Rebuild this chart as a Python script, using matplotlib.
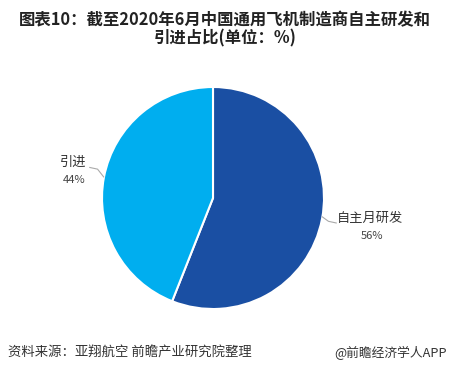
import matplotlib
matplotlib.use("Agg")
import matplotlib.pyplot as plt

plt.rcParams['font.family'] = ['Noto Sans CJK SC', 'DejaVu Sans']

categories = ["自主月研发", "引进"]
values = [56, 44]
pct_labels = ["56%", "44%"]
colors = ["#1a4fa3", "#00aeef"]

W, H = 450, 373
fig = plt.figure(figsize=(W / 100, H / 100), dpi=100)
fig.patch.set_facecolor("white")

cx, cy, r = 213, 198, 111
ax = fig.add_axes([(cx - r) / W, (H - cy - r) / H, 2 * r / W, 2 * r / H])
wedges, _ = ax.pie(values, colors=colors, startangle=90, counterclock=False,
                   radius=1, wedgeprops=dict(edgecolor="white", linewidth=1.5))
ax.set_xlim(-1, 1)
ax.set_ylim(-1, 1)
ax.set_aspect("equal")
ax.axis("off")

line_color = "#aaaaaa"
ax.plot([0.985, 1.04, 1.11], [-0.17, -0.21, -0.225], color=line_color, lw=0.8, clip_on=False)
ax.text(1.41, -0.18, categories[0], ha="center", va="center", fontsize=9.5, color="#333333")
ax.text(1.43, -0.34, pct_labels[0], ha="center", va="center", fontsize=8, color="#444444")
ax.plot([-0.985, -1.04, -1.11], [0.19, 0.26, 0.275], color=line_color, lw=0.8, clip_on=False)
ax.text(-1.26, 0.32, categories[1], ha="center", va="center", fontsize=9.5, color="#333333")
ax.text(-1.25, 0.16, pct_labels[1], ha="center", va="center", fontsize=8, color="#444444")

fig.text(225 / W, 1 - 20 / H, "图表10：截至2020年6月中国通用飞机制造商自主研发和",
         ha="center", va="center", fontsize=11.8, fontweight="bold", color="#222222")
fig.text(225 / W, 1 - 38 / H, "引进占比(单位：%)",
         ha="center", va="center", fontsize=11.8, fontweight="bold", color="#222222")

fig.text(8 / W, 1 - 353 / H, "资料来源：亚翔航空 前瞻产业研究院整理",
         ha="left", va="center", fontsize=9.6, color="#333333")
fig.text(447 / W, 1 - 353 / H, "@前瞻经济学人APP",
         ha="right", va="center", fontsize=9.2, color="#333333")

fig.savefig("out.png", dpi=100, facecolor="white")
